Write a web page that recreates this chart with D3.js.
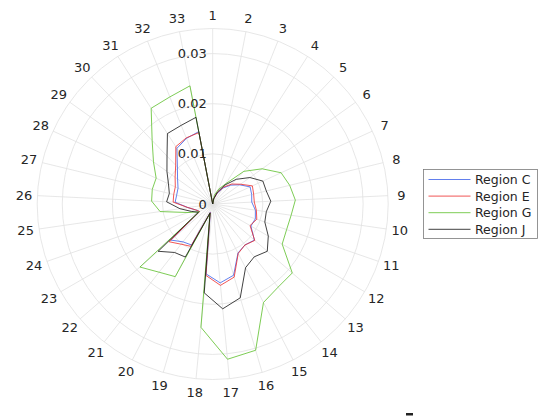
<!DOCTYPE html>
<html><head><meta charset="utf-8">
<script src="https://cdn.jsdelivr.net/npm/d3@7"></script>
<style>
html,body{margin:0;padding:0;background:#fff;}
svg{display:block;font-family:"DejaVu Sans",sans-serif;}
</style></head>
<body>
<svg id="chart" width="544" height="417"></svg>
<script>
// Categories (angular ticks, clockwise from top)
const categories = d3.range(1, 34).map(String);
// Radial tick values
const rTicks = [0, 0.01, 0.02, 0.03];
const seriesNames = ["Region C", "Region E", "Region G", "Region J"];
const seriesColors = ["#3a5ee8", "#ee2b2b", "#5cbf2a", "#111111"];
// Values per category 1..33
const regionC = [0, 0.0010, 0.0022, 0.0038, 0.0052, 0.0066, 0.0082, 0.0080, 0.0078, 0.0086, 0.0090,
  0.0088, 0.0110, 0.0104, 0.0110, 0.0148, 0.0158, 0.0140, 0.0017, 0.0092, 0.0096, 0.0110,
  0.0030, 0.0036, 0.0050, 0.0075, 0.0074, 0.0076, 0.0086, 0.0102, 0.0132, 0.0141, 0.0147];
const regionE = [0, 0.0010, 0.0024, 0.0040, 0.0055, 0.0068, 0.0087, 0.0084, 0.0083, 0.0088, 0.0093,
  0.0086, 0.0111, 0.0104, 0.0111, 0.0152, 0.0163, 0.0143, 0.0018, 0.0095, 0.0102, 0.0115,
  0.0030, 0.0036, 0.0050, 0.0079, 0.0080, 0.0082, 0.0092, 0.0107, 0.0136, 0.0142, 0.0145];
const regionG = [0, 0.0018, 0.0032, 0.0048, 0.0090, 0.0121, 0.0150, 0.0158, 0.0165, 0.0158, 0.0156,
  0.0160, 0.0210, 0.0211, 0.0221, 0.0304, 0.0311, 0.0247, 0.0019, 0.0163, 0.0173, 0.0192,
  0.0031, 0.0052, 0.0106, 0.0122, 0.0124, 0.0124, 0.0145, 0.0175, 0.0227, 0.0230, 0.0240];
const regionJ = [0, 0.0011, 0.0026, 0.0045, 0.0068, 0.0091, 0.0110, 0.0110, 0.0116, 0.0108, 0.0110,
  0.0128, 0.0144, 0.0134, 0.0143, 0.0195, 0.0210, 0.0178, 0.0019, 0.0119, 0.0123, 0.0144,
  0.0033, 0.0045, 0.0066, 0.0092, 0.0089, 0.0097, 0.0112, 0.0132, 0.0167, 0.0169, 0.0176];
const seriesValues = [regionC, regionE, regionG, regionJ];

const svg = d3.select("#chart");
const cx = 212.7, cy = 204, R = 175.5, rMax = 0.035;
const g = svg.append("g").attr("transform", `translate(${cx},${cy})`);

const r = d3.scaleLinear().domain([0, rMax]).range([0, R]);
const angle = d3.scalePoint().domain(categories).range([0, 2 * Math.PI * (32 / 33)]);

// grid circles
const rings = [0.01, 0.02, 0.03, rMax];
g.selectAll("circle.ring").data(rings).join("circle")
  .attr("r", d => r(d)).attr("fill", "none")
  .attr("stroke", "#e1e1e1").attr("stroke-width", 0.8);

// spokes
g.selectAll("line.spoke").data(categories).join("line")
  .attr("x1", 0).attr("y1", 0)
  .attr("x2", d => R * Math.sin(angle(d)))
  .attr("y2", d => -R * Math.cos(angle(d)))
  .attr("stroke", "#e1e1e1").attr("stroke-width", 0.8);

// angular labels
g.selectAll("text.cat").data(categories).join("text")
  .attr("x", d => 189 * Math.sin(angle(d)))
  .attr("y", d => -189 * Math.cos(angle(d)))
  .attr("text-anchor", "middle").attr("dominant-baseline", "central")
  .attr("font-size", 13).attr("fill", "#262626").text(d => d);

// series lines
const line = d3.lineRadial()
  .angle((d, i) => angle(categories[i]))
  .radius(d => r(d))
  .curve(d3.curveLinearClosed);
g.selectAll("path.series").data(seriesValues).join("path")
  .attr("d", d => line(d)).attr("fill", "none")
  .attr("stroke", (d, i) => seriesColors[i]).attr("stroke-width", 0.8)
  .attr("stroke-linejoin", "miter");

// radial tick labels
g.selectAll("text.rt").data(rTicks).join("text")
  .attr("x", -6).attr("y", d => -r(d))
  .attr("text-anchor", "end").attr("dominant-baseline", "central")
  .attr("font-size", 13).attr("fill", "#262626")
  .text(d => d === 0 ? "0" : d3.format(".2f")(d));

// legend
const lg = svg.append("g").attr("transform", "translate(423.5,169.5)");
lg.append("rect").attr("width", 114).attr("height", 69)
  .attr("fill", "#fff").attr("stroke", "#7a7a7a").attr("stroke-width", 0.8);
seriesNames.forEach((name, i) => {
  const y = 10 + i * 16.6;
  lg.append("line").attr("x1", 5).attr("x2", 47).attr("y1", y).attr("y2", y)
    .attr("stroke", seriesColors[i]).attr("stroke-width", 0.8);
  lg.append("text").attr("x", 51.5).attr("y", y).attr("dominant-baseline", "central")
    .attr("font-size", 12.5).attr("fill", "#262626").text(name);
});

// small artifact at bottom
svg.append("rect").attr("x", 406).attr("y", 413).attr("width", 7).attr("height", 2.5).attr("fill", "#222");
</script>
</body></html>
